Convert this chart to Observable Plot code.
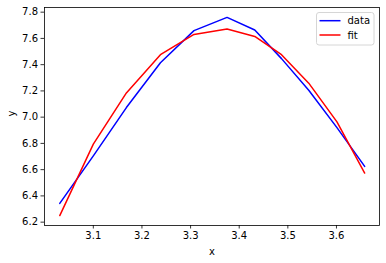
<!DOCTYPE html>
<html><head><meta charset="utf-8">
<script src="https://cdn.jsdelivr.net/npm/d3@7"></script>
<script src="https://cdn.jsdelivr.net/npm/@observablehq/plot@0.6"></script>
<style>
body{margin:0;background:#fff;}
#c{position:relative;width:386px;height:263px;}
#c svg{font-family:"DejaVu Sans",sans-serif;}
</style>
</head><body><div id="c"></div>
<script>
const xValues = [3.031, 3.100, 3.168, 3.238, 3.307, 3.375, 3.432, 3.487, 3.543, 3.601, 3.658];
const dataValues = [6.343, 6.705, 7.073, 7.415, 7.659, 7.760, 7.664, 7.446, 7.205, 6.920, 6.625];
const fitValues = [6.250, 6.795, 7.185, 7.476, 7.630, 7.672, 7.615, 7.476, 7.259, 6.964, 6.574];
const xTicks = [3.1, 3.2, 3.3, 3.4, 3.5, 3.6];
const yTicks = [6.2, 6.4, 6.6, 6.8, 7.0, 7.2, 7.4, 7.6, 7.8];
const seriesNames = ["data", "fit"];
const seriesColors = ["#0000ff", "#ff0000"];

const rows = [];
xValues.forEach((x, i) => {
  rows.push({x, y: dataValues[i], s: seriesNames[0]});
  rows.push({x, y: fitValues[i], s: seriesNames[1]});
});

const chart = Plot.plot({
  width: 386, height: 263,
  marginLeft: 44, marginRight: 7, marginTop: 7, marginBottom: 38,
  style: {fontFamily: "DejaVu Sans, sans-serif", fontSize: "10px", color: "#000", background: "#fff"},
  x: {domain: [2.9996, 3.6885]},
  y: {domain: [6.1745, 7.8355]},
  color: {domain: seriesNames, range: seriesColors},
  marks: [
    Plot.line(rows, {x: "x", y: "y", z: "s", stroke: "s", strokeWidth: 1.5}),
    Plot.frame({stroke: "#000", strokeWidth: 0.8}),
    Plot.axisX({ticks: xTicks, tickFormat: d3.format(".1f"), tickSize: 3.5, tickPadding: 3, label: null, fontSize: 10, stroke: "#000", strokeWidth: 0.8}),
    Plot.axisY({ticks: yTicks, tickFormat: d3.format(".1f"), tickSize: 3.5, tickPadding: 3, label: null, fontSize: 10, stroke: "#000", strokeWidth: 0.8}),
    Plot.text(["x"], {frameAnchor: "bottom", dy: 26, text: d => d, fontSize: 10, lineAnchor: "middle", fill: "#000"}),
    Plot.text(["y"], {frameAnchor: "left", dx: -33, rotate: -90, text: d => d, fontSize: 10, lineAnchor: "middle", fill: "#000"})
  ]
});
document.getElementById("c").appendChild(chart);

// legend
const svg = d3.select(chart);
const lg = svg.append("g").attr("text-anchor", "start");
lg.append("rect").attr("x", 316.5).attr("y", 12.5).attr("width", 57.5).attr("height", 32.5)
  .attr("rx", 2.5).attr("fill", "#fff").attr("fill-opacity", 0.8).attr("stroke", "#d6d6d6").attr("stroke-width", 1);
seriesNames.forEach((name, i) => {
  const cy = 20.7 + i * 14.3;
  lg.append("line").attr("x1", 319.5).attr("x2", 340.5).attr("y1", cy).attr("y2", cy)
    .attr("stroke", seriesColors[i]).attr("stroke-width", 1.5);
  lg.append("text").attr("x", 347.5).attr("y", cy).attr("dy", "0.35em")
    .attr("text-anchor", "start").attr("font-size", 10).attr("fill", "#000").text(name);
});
</script>
</body></html>
